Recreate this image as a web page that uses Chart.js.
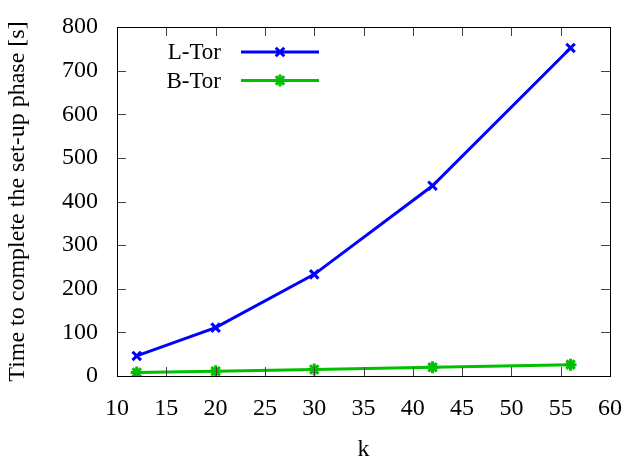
<!DOCTYPE html>
<html>
<head>
<meta charset="utf-8">
<script src="https://cdn.jsdelivr.net/npm/chart.js@4/dist/chart.umd.min.js"></script>
<style>
  html, body { margin: 0; padding: 0; background: #fff; }
  #wrap { width: 624px; height: 464px; }
</style>
</head>
<body>
<div id="wrap"><canvas id="setupChart" width="624" height="464"></canvas></div>
<script>
// set-up phase timings per k
const kValues = [12, 20, 30, 42, 56];
const lTorTimes = [46, 111, 233, 436, 752];
const bTorTimes = [8, 11, 15, 20, 26];
const xTicks = [10, 15, 20, 25, 30, 35, 40, 45, 50, 55, 60];
const yTicks = [0, 100, 200, 300, 400, 500, 600, 700, 800];

const serif = '"Liberation Serif", "DejaVu Serif", serif';
const fontSize = 24;

function toPoints(xs, ys) {
    return xs.map((x, i) => ({ x: x, y: ys[i] }));
}

// frame, inward ticks on all four sides, and the gnuplot style key
const framePlugin = {
    id: 'frame',
    afterDraw(chart) {
        const ctx = chart.ctx;
        const a = chart.chartArea;
        const xs = chart.scales.x, ys = chart.scales.y;
        const len = 9;
        ctx.save();
        ctx.strokeStyle = '#444';
        ctx.lineWidth = 1;
        ctx.beginPath();
        xTicks.forEach(v => {
            const px = Math.round(xs.getPixelForValue(v)) + 0.5;
            ctx.moveTo(px, a.bottom); ctx.lineTo(px, a.bottom - len);
            ctx.moveTo(px, a.top); ctx.lineTo(px, a.top + len);
        });
        yTicks.forEach(v => {
            const py = Math.round(ys.getPixelForValue(v)) + 0.5;
            ctx.moveTo(a.left, py); ctx.lineTo(a.left + len, py);
            ctx.moveTo(a.right, py); ctx.lineTo(a.right - len, py);
        });
        ctx.stroke();
        ctx.strokeStyle = '#000';
        ctx.strokeRect(Math.round(a.left) + 0.5, Math.round(a.top) + 0.5,
            Math.round(a.right - a.left), Math.round(a.bottom - a.top));

        // key
        ctx.font = (fontSize - 1) + 'px ' + serif;
        ctx.textAlign = 'right';
        ctx.textBaseline = 'middle';
        chart.data.datasets.forEach((ds, i) => {
            const y = a.top + 25 + i * 28.5;
            const x0 = a.left + 124, x1 = a.left + 202;
            ctx.fillStyle = '#000';
            ctx.fillText(ds.label, a.left + 104, y + 1);
            ctx.strokeStyle = ds.borderColor;
            ctx.lineWidth = ds.borderWidth;
            ctx.beginPath();
            ctx.moveTo(x0, y); ctx.lineTo(x1, y);
            ctx.stroke();
            Chart.helpers.drawPoint(ctx, {
                pointStyle: ds.pointStyle,
                radius: ds.pointRadius,
                rotation: 0,
                borderWidth: ds.pointBorderWidth
            }, (x0 + x1) / 2, y);
        });
        ctx.restore();
    }
};

new Chart(document.getElementById('setupChart'), {
    type: 'line',
    data: {
        datasets: [
            {
                label: 'L-Tor',
                data: toPoints(kValues, lTorTimes),
                borderColor: '#0000ff',
                backgroundColor: '#0000ff',
                borderWidth: 3,
                pointStyle: 'crossRot',
                pointRadius: 6,
                pointBorderWidth: 3,
                tension: 0
            },
            {
                label: 'B-Tor',
                data: toPoints(kValues, bTorTimes),
                borderColor: '#00c000',
                backgroundColor: '#00c000',
                borderWidth: 3,
                pointStyle: 'star',
                pointRadius: 6,
                pointBorderWidth: 3,
                tension: 0
            }
        ]
    },
    options: {
        responsive: false,
        animation: false,
        layout: { padding: { left: 0, top: 27, right: 14, bottom: 0 } },
        plugins: {
            legend: { display: false },
            tooltip: { enabled: false }
        },
        scales: {
            x: {
                type: 'linear',
                min: 10,
                max: 60,
                afterBuildTicks: s => { s.ticks = xTicks.map(v => ({ value: v })); },
                afterFit: s => { s.height = 88; s.paddingLeft = 0; s.paddingRight = 0; },
                grid: { display: false, drawTicks: false },
                border: { display: false },
                ticks: { color: '#000', font: { family: serif, size: fontSize }, padding: 18, maxRotation: 0 },
                title: { display: true, text: 'k', color: '#000', font: { family: serif, size: fontSize }, padding: { top: 0, bottom: 0 } }
            },
            y: {
                min: 0,
                max: 800,
                afterBuildTicks: s => { s.ticks = yTicks.map(v => ({ value: v })); },
                afterFit: s => { s.width = 117; s.paddingTop = 0; s.paddingBottom = 0; },
                grid: { display: false, drawTicks: false },
                border: { display: false },
                ticks: { color: '#000', font: { family: serif, size: fontSize }, padding: 19 },
                title: { display: true, text: 'Time to complete the set-up phase [s]', color: '#000', font: { family: serif, size: fontSize }, padding: { top: 3, bottom: 0 } }
            }
        }
    },
    plugins: [framePlugin]
});
</script>
</body>
</html>
